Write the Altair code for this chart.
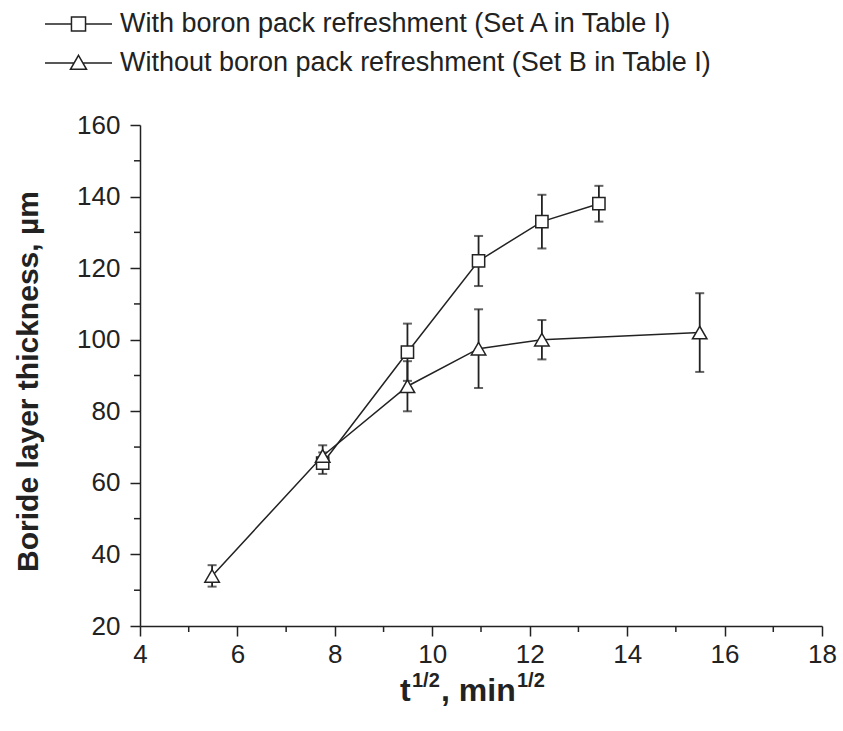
import altair as alt
import pandas as pd

# Boride layer thickness vs square root of boriding time
label_a = "With boron pack refreshment (Set A in Table I)"
label_b = "Without boron pack refreshment (Set B in Table I)"

x_set_a = [7.75, 9.49, 10.95, 12.25, 13.42]
y_set_a = [65.5, 96.5, 122.0, 133.0, 138.0]
err_set_a = [3.0, 8.0, 7.0, 7.5, 5.0]

x_set_b = [5.48, 7.75, 9.49, 10.95, 12.25, 15.49]
y_set_b = [34.0, 67.5, 87.0, 97.5, 100.0, 102.0]
err_set_b = [3.0, 3.0, 7.0, 11.0, 5.5, 11.0]

x_ticks = [4, 6, 8, 10, 12, 14, 16, 18]
x_minor = [5, 7, 9, 11, 13, 15, 17]
y_ticks = [20, 40, 60, 80, 100, 120, 140, 160]
y_minor = [30, 50, 70, 90, 110, 130, 150]

INK = "#222222"
FONT = "Liberation Sans"
W, H = 682, 501

rows = []
for lab, xs, ys, es in [(label_a, x_set_a, y_set_a, err_set_a),
                        (label_b, x_set_b, y_set_b, err_set_b)]:
    for xv, yv, ev in zip(xs, ys, es):
        rows.append({"series": lab, "x": xv, "y": yv, "lo": yv - ev, "hi": yv + ev})
df = pd.DataFrame(rows)

xs = alt.Scale(domain=[4, 18], nice=False, zero=False)
ys = alt.Scale(domain=[20, 160], nice=False, zero=False)

x_axis = alt.Axis(values=x_ticks, format="d", grid=False, domainColor=INK, domainWidth=1.5,
                  tickColor=INK, tickWidth=1.5, tickSize=10, labelFont=FONT, labelFontSize=26,
                  labelColor=INK, labelPadding=5, labelFlush=False, title=None)
y_axis = alt.Axis(values=y_ticks, format="d", grid=False, domainColor=INK, domainWidth=1.5,
                  tickColor=INK, tickWidth=1.5, tickSize=10, labelFont=FONT, labelFontSize=26,
                  labelColor=INK, labelPadding=10, labelFlush=False,
                  title="Boride layer thickness, \u00b5m", titleFont=FONT, titleFontSize=30,
                  titleFontWeight="bold", titleColor=INK, titleX=-112, titleY=256,
                  titleAngle=270, titleAlign="center", titleBaseline="middle")

base = alt.Chart(df)

lines = base.mark_line(color=INK, strokeWidth=1.5).encode(
    x=alt.X("x:Q", scale=xs, axis=x_axis),
    y=alt.Y("y:Q", scale=ys, axis=y_axis),
    detail="series:N",
)

err = base.mark_rule(color=INK, strokeWidth=1.8).encode(
    x="x:Q", y="lo:Q", y2="hi:Q")
cap_hi = base.mark_tick(color=INK, orient="horizontal", size=9, thickness=2).encode(
    x="x:Q", y="hi:Q")
cap_lo = base.mark_tick(color=INK, orient="horizontal", size=9, thickness=2).encode(
    x="x:Q", y="lo:Q")

markers = base.mark_point(filled=True, fill="white", stroke=INK, strokeWidth=1.5, opacity=1).encode(
    x="x:Q", y="y:Q",
    shape=alt.Shape("series:N", scale=alt.Scale(domain=[label_a, label_b],
                                                range=["square", "triangle-up"]), legend=None),
    size=alt.Size("series:N", scale=alt.Scale(domain=[label_a, label_b], range=[150, 210]),
                  legend=None),
)

# Legend symbols: short line segments with the series marker in the middle
path_a = "M-1,0H-0.21M0.21,0H1M-0.21,-0.21H0.21V0.21H-0.21Z"
path_b = "M-1,0H-0.13M0.13,0H1M0,-0.23L0.24,0.19L-0.24,0.19Z"

legend_layer = base.transform_filter("false").mark_point(
    filled=False, color=INK, strokeWidth=1.5, opacity=1).encode(
    x="x:Q", y="y:Q",
    shape=alt.Shape("series:N",
                    scale=alt.Scale(domain=[label_a, label_b], range=[path_a, path_b]),
                    legend=alt.Legend(orient="none", legendX=-96, legendY=-116, title=None,
                                      labelFont=FONT, labelFontSize=27, labelColor=INK,
                                      symbolSize=67 * 67, clipHeight=30, rowPadding=9,
                                      labelOffset=7, symbolStrokeWidth=1.5,
                                      symbolStrokeColor=INK, symbolOpacity=1,
                                      padding=0, labelLimit=800)),
)

minor_x = alt.Chart(pd.DataFrame({"v": x_minor})).mark_rule(color=INK, strokeWidth=1.5).encode(
    x=alt.X("v:Q", scale=xs), y=alt.value(H), y2=alt.value(H + 6))
minor_y = alt.Chart(pd.DataFrame({"v": y_minor})).mark_rule(color=INK, strokeWidth=1.5).encode(
    y=alt.Y("v:Q", scale=ys), x=alt.value(0), x2=alt.value(-6))

# x-axis title with superscripts: t^(1/2), min^(1/2)
title_parts = ["t", "1/2", ", min", "1/2"]
title_sizes = [32, 20, 32, 20]
title_dx = [260, 272, 301, 377]
title_dy = [576, 562, 576, 562]
title_layers = []
for txt, fs, px, py in zip(title_parts, title_sizes, title_dx, title_dy):
    title_layers.append(
        alt.Chart(pd.DataFrame({"s": [txt]})).mark_text(
            font=FONT, fontSize=fs, fontWeight="bold", color=INK, align="left",
            baseline="alphabetic").encode(text="s:N", x=alt.value(px), y=alt.value(py))
    )

chart = alt.layer(lines, err, cap_hi, cap_lo, markers, legend_layer, minor_x, minor_y,
                  *title_layers).resolve_scale(shape="independent", size="independent").properties(
    width=W, height=H,
    background="white",
    autosize=alt.AutoSizeParams(type="none"),
    padding={"left": 140, "top": 125, "right": 21, "bottom": 105},
).configure_view(strokeWidth=0, stroke="transparent")

chart.save("out.html", embed_options={"renderer": "svg", "actions": False})
